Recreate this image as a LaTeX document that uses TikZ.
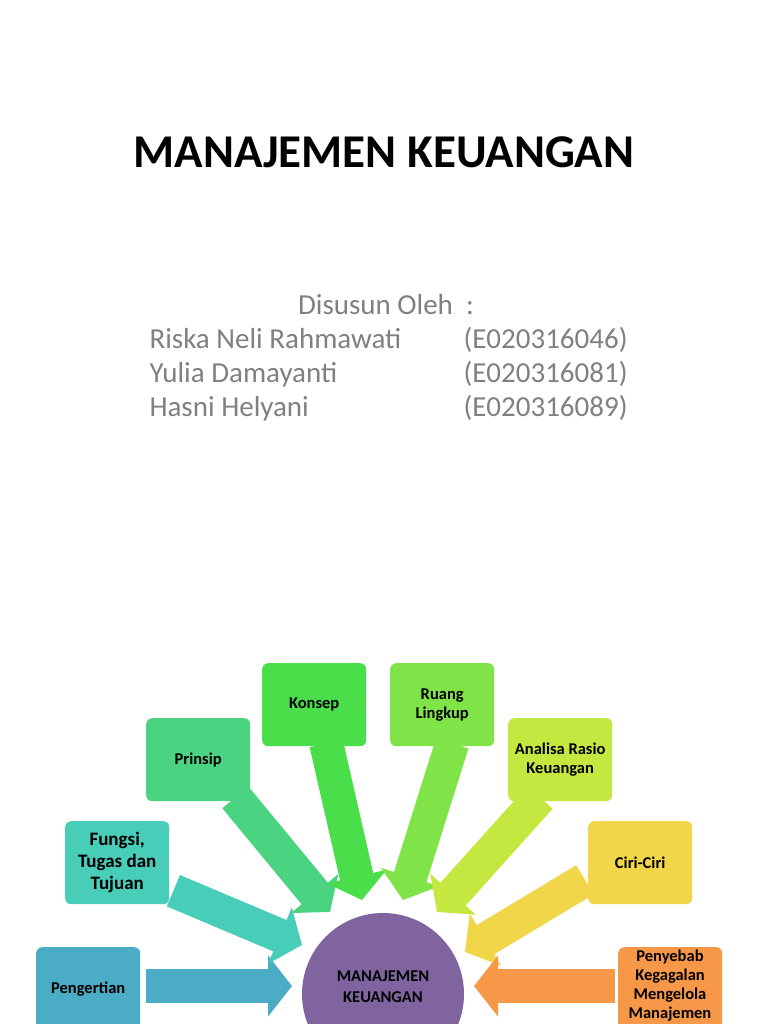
\documentclass[tikz,border=0pt]{standalone}
\usepackage{fontspec}
\setmainfont{Carlito}
\usetikzlibrary{arrows.meta}
\definecolor{cPeng}{RGB}{75,172,198}
\definecolor{cFung}{RGB}{72,205,185}
\definecolor{cPrin}{RGB}{74,212,130}
\definecolor{cKons}{RGB}{74,222,74}
\definecolor{cRuang}{RGB}{128,228,72}
\definecolor{cAnal}{RGB}{196,232,64}
\definecolor{cCiri}{RGB}{240,214,72}
\definecolor{cPeny}{RGB}{246,152,72}
\definecolor{cMid}{RGB}{128,100,160}
\definecolor{cGray}{RGB}{128,128,128}
\begin{document}
\begin{tikzpicture}[x=1pt,y=-1pt,
  box/.style={fill=#1, rounded corners=6pt, minimum width=104pt, minimum height=83pt, anchor=north west, align=center, font=\bfseries\fontsize{16.5}{19}\selectfont, inner sep=2pt},
  blk/.style={draw=#1, line width=34pt, -{Triangle[length=24pt,width=60pt]}}]
\useasboundingbox (0,0) rectangle (768,1024);
\node (title) at (384,152) {\bfseries\fontsize{47}{54}\selectfont MANAJEMEN KEUANGAN};
\begin{scope}[cGray, font=\fontsize{29}{34}\selectfont]
\node[anchor=base] (dis) at (386,314) {Disusun Oleh\ \ :};
\node[anchor=base west] (n1) at (146,348) {Riska Neli Rahmawati};
\node[anchor=base west] (n2) at (146,382) {Yulia Damayanti};
\node[anchor=base west] (n3) at (146,416) {Hasni Helyani};
\node[anchor=base west] (i1) at (460,348) {(E020316046)};
\node[anchor=base west] (i2) at (460,382) {(E020316081)};
\node[anchor=base west] (i3) at (460,416) {(E020316089)};
\end{scope}
% boxes
\node[box=cPeng] (peng) at (36,947) {Pengertian};
\node[box=cFung, font=\bfseries\fontsize{19}{22}\selectfont] (fung) at (65,821) {Fungsi,\\Tugas dan\\Tujuan};
\node[box=cPrin] (prin) at (146,718) {Prinsip};
\node[box=cKons] (kons) at (262,663) {Konsep};
\node[box=cRuang] (ruang) at (390,663) {Ruang\\Lingkup};
\node[box=cAnal] (anal) at (508,718) {Analisa Rasio\\Keuangan};
\node[box=cCiri] (ciri) at (588,821) {Ciri-Ciri};
\node[box=cPeny, minimum height=90pt] (peny) at (618,947) {};
\node[anchor=north, align=center, font=\bfseries\fontsize{16.5}{19}\selectfont, inner sep=0pt] (penytxt) at (670,950) {Penyebab\\Kegagalan\\Mengelola\\Manajemen};
% center
\node[fill=cMid, circle, minimum size=162pt] (mid) at (383,994) {};
\node[font=\bfseries\fontsize{16.5}{21}\selectfont, align=center] (midtxt) at (383,987) {MANAJEMEN\\KEUANGAN};
% arrow tips
\coordinate (tPeng) at (292,986);
\coordinate (tFung) at (302,945);
\coordinate (tPrin) at (330,912);
\coordinate (tKons) at (362,900);
\coordinate (tRuang) at (403,900);
\coordinate (tAnal) at (437,912);
\coordinate (tCiri) at (465,952);
\coordinate (tPeny) at (474,986);
\draw[blk=cPeng] (peng.east |- tPeng) ++(6,0) -- (tPeng);
\draw[blk=cFung] ([xshift=4pt]fung.east) ++(0,28) -- (tFung);
\draw[blk=cPrin] ([xshift=-15pt,yshift=4pt]prin.south east) -- (tPrin);
\draw[blk=cKons] ([xshift=12pt,yshift=3pt]kons.south) -- (tKons);
\draw[blk=cRuang] ([xshift=10pt,yshift=3pt]ruang.south) -- (tRuang);
\draw[blk=cAnal] ([xshift=32pt,yshift=4pt]anal.south west) -- (tAnal);
\draw[blk=cCiri] ([xshift=-3pt]ciri.west) ++(0,17) -- (tCiri);
\draw[blk=cPeny] (peny.west |- tPeny) ++(-3,0) -- (tPeny);
\end{tikzpicture}
\end{document}
